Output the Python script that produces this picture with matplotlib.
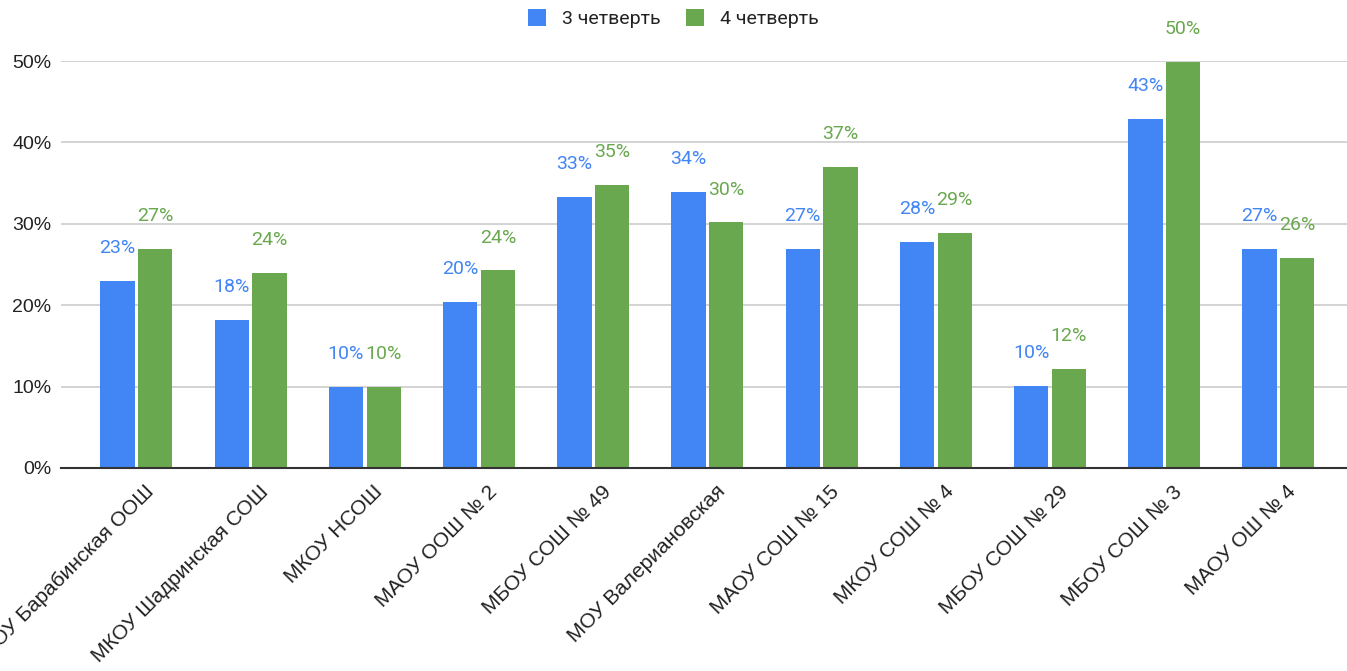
import matplotlib
matplotlib.use("Agg")
import matplotlib.pyplot as plt
import numpy as np

categories = ["МКОУ Барабинская ООШ", "МКОУ Шадринская СОШ", "МКОУ НСОШ", "МАОУ ООШ № 2",
              "МБОУ СОШ № 49", "МОУ Валериановская", "МАОУ СОШ № 15", "МКОУ СОШ № 4",
              "МБОУ СОШ № 29", "МБОУ СОШ № 3", "МАОУ ОШ № 4"]
q3 = [23.0, 18.2, 9.95, 20.4, 33.3, 33.9, 26.9, 27.8, 10.1, 42.9, 26.9]
q4 = [26.9, 24.0, 9.95, 24.3, 34.8, 30.2, 37.0, 28.9, 12.2, 49.9, 25.8]
series_names = ["3 четверть", "4 четверть"]
yticks = [0, 10, 20, 30, 40, 50]

BLUE = "#4285F4"
GREEN = "#6AA84F"

plt.rcParams['font.family'] = ['Roboto', 'DejaVu Sans']

fig = plt.figure(figsize=(13.47, 6.71), dpi=100)
ax = fig.add_axes([61/1347, 1-468/671, 1-61/1347, (468-61)/671])

x = np.arange(len(categories))
w = 0.30
off = 0.165
b1 = ax.bar(x - off, q3, w, color=BLUE, label=series_names[0], zorder=3)
b2 = ax.bar(x + off, q4, w, color=GREEN, label=series_names[1], zorder=3)

for xs, vals, col in [(x - off, q3, BLUE), (x + off, q4, GREEN)]:
    for xi, v in zip(xs, vals):
        ax.annotate(f"{round(v):d}%", (xi, v), xytext=(0, 23.5), textcoords="offset points",
                    ha="center", va="center", color=col, fontsize=14, clip_on=False,
                    annotation_clip=False)

ax.set_xlim(-0.66, 10.6)
ax.set_ylim(0, 50)
ax.set_yticks(yticks)
ax.set_yticklabels([f"{t}%" for t in yticks], fontsize=14, color="#222222",
                   family=['Liberation Sans', 'DejaVu Sans'])
ax.yaxis.grid(True, color="#cccccc", linewidth=1.2, zorder=0)
ax.set_axisbelow(True)
ax.tick_params(axis="y", length=0, pad=7)
ax.tick_params(axis="x", length=0, pad=10)
for s in ["top", "right", "left"]:
    ax.spines[s].set_visible(False)
ax.spines["bottom"].set_color("#333333")
ax.spines["bottom"].set_linewidth(1.5)
ax.spines["bottom"].set_zorder(4)

ax.set_xticks(x + 0.07)
ax.set_xticklabels(categories, rotation=45, ha="right", va="top",
                   rotation_mode="anchor", fontsize=15, color="#222222",
                   family=['Liberation Sans', 'DejaVu Sans'])

leg = fig.legend(handles=[b1, b2], labels=series_names, loc="upper center",
                 bbox_to_anchor=(0.5, 1.012), ncol=2, frameon=False, fontsize=14,
                 handlelength=0.9, handleheight=0.9, handletextpad=0.85,
                 columnspacing=1.3, labelcolor="#222222")

fig.savefig("out.png", dpi=100)
